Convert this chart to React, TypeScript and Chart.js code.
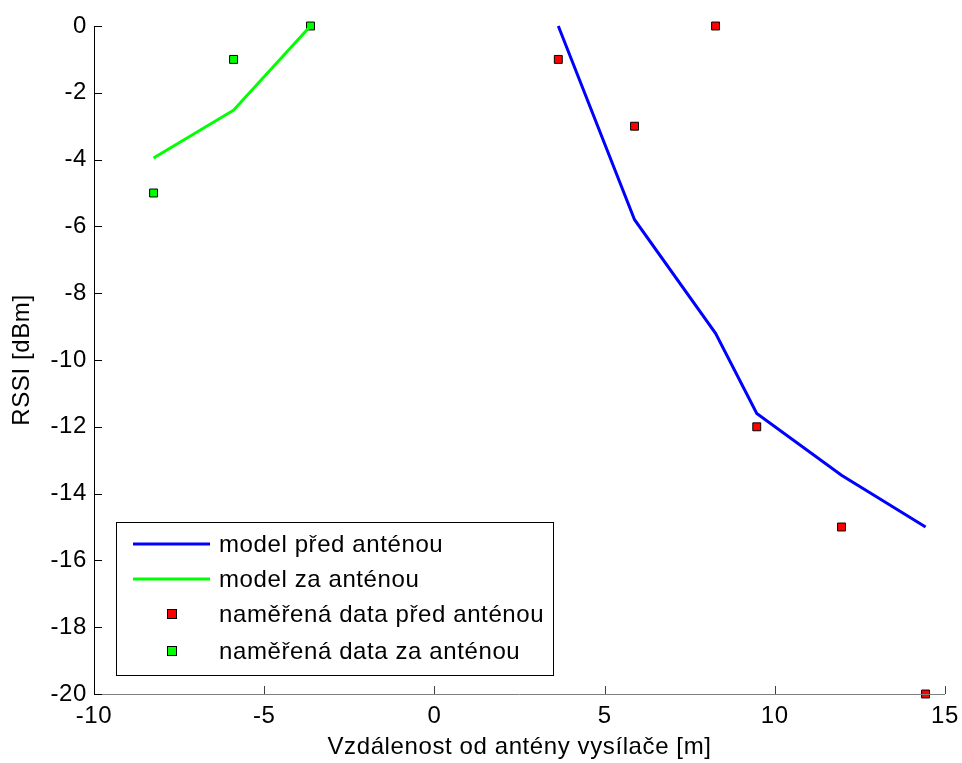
import React, { useEffect, useRef } from "react";
import { Chart, registerables } from "chart.js";

Chart.register(...registerables);

const distPred = [3.64, 5.88, 8.26, 9.47, 11.96, 14.43];
const modelPred = [0, -5.8, -9.2, -11.6, -13.45, -15.0];
const measPred = [-1, -3, 0, -12, -15, -20];

const distZa = [-8.25, -5.9, -3.64];
const modelZa = [-3.95, -2.52, 0];
const measZa = [-5, -1, 0];

const xTicks = [-10, -5, 0, 5, 10, 15];
const yTicks = [-20, -18, -16, -14, -12, -10, -8, -6, -4, -2, 0];

const labels = [
  "model před anténou",
  "model za anténou",
  "naměřená data před anténou",
  "naměřená data za anténou",
];

const FONT = "Arial, 'Liberation Sans', Helvetica, sans-serif";
const FS = 24;

const pts = (xs: number[], ys: number[]) => xs.map((x, i) => ({ x, y: ys[i] }));

const spacingPlugin = {
  id: "letterSpacing",
  beforeDraw(chart: any) {
    chart.ctx.letterSpacing = "0.6px";
  },
};

const axesPlugin = {
  id: "matlabAxes",
  afterDraw(chart: any) {
    const { ctx, chartArea } = chart;
    const xs = chart.scales.x;
    const ys = chart.scales.y;
    ctx.save();
    ctx.lineWidth = 1;
    ctx.strokeStyle = "#808080";
    ctx.beginPath();
    ctx.moveTo(chartArea.left, chartArea.bottom + 0.5);
    ctx.lineTo(chartArea.right, chartArea.bottom + 0.5);
    ctx.stroke();
    ctx.strokeStyle = "#404040";
    xs.ticks.forEach((t: any) => {
      const px = Math.round(xs.getPixelForValue(t.value)) + 0.5;
      ctx.beginPath();
      ctx.moveTo(px, chartArea.bottom);
      ctx.lineTo(px, chartArea.bottom - 8);
      ctx.stroke();
    });
    ctx.strokeStyle = "#000000";
    ctx.beginPath();
    ctx.moveTo(chartArea.left + 0.5, chartArea.top);
    ctx.lineTo(chartArea.left + 0.5, chartArea.bottom + 1);
    ctx.stroke();
    ys.ticks.forEach((t: any) => {
      const py = Math.round(ys.getPixelForValue(t.value)) + 0.5;
      ctx.beginPath();
      ctx.moveTo(chartArea.left, py);
      ctx.lineTo(chartArea.left + 8, py);
      ctx.stroke();
    });
    ctx.restore();
  },
};

const legendPlugin = {
  id: "insideLegend",
  afterDraw(chart: any) {
    const { ctx } = chart;
    const bx = 116, by = 522, bw = 437, bh = 153;
    ctx.save();
    ctx.fillStyle = "#ffffff";
    ctx.fillRect(bx, by, bw, bh);
    ctx.strokeStyle = "#000000";
    ctx.lineWidth = 1;
    ctx.strokeRect(bx + 0.5, by + 0.5, bw, bh);
    const rows = [544, 579, 614, 651];
    ctx.font = `${FS}px ${FONT}`;
    ctx.textBaseline = "middle";
    ctx.textAlign = "left";
    chart.data.datasets.forEach((ds: any, i: number) => {
      const y = rows[i];
      if (ds.showLine) {
        ctx.strokeStyle = ds.borderColor;
        ctx.lineWidth = ds.borderWidth;
        ctx.beginPath();
        ctx.moveTo(133, y);
        ctx.lineTo(210, y);
        ctx.stroke();
      } else {
        ctx.fillStyle = ds.pointBackgroundColor;
        ctx.fillRect(168, y - 4, 8, 8);
        ctx.strokeStyle = "#000";
        ctx.lineWidth = 1;
        ctx.strokeRect(167.5, y - 4.5, 9, 9);
      }
      ctx.fillStyle = "#000";
      ctx.fillText(ds.label, 219, y + 1);
    });
    ctx.restore();
  },
};

export default function App() {
  const ref = useRef<HTMLCanvasElement>(null);
  useEffect(() => {
    document.body.style.margin = "0";
    const chart = new Chart(ref.current!, {
      type: "scatter",
      data: {
        datasets: [
          {
            label: labels[0],
            data: pts(distPred, modelPred),
            showLine: true,
            borderColor: "#0000ff",
            borderWidth: 3,
            pointRadius: 0,
            pointBackgroundColor: "#0000ff",
            clip: false,
          },
          {
            label: labels[1],
            data: pts(distZa, modelZa),
            showLine: true,
            borderColor: "#00ff00",
            borderWidth: 3,
            pointRadius: 0,
            pointBackgroundColor: "#00ff00",
            clip: false,
          },
          {
            label: labels[2],
            data: pts(distPred, measPred),
            showLine: false,
            pointStyle: "rect",
            pointRadius: 5.6,
            pointBackgroundColor: "#ff0000",
            pointBorderColor: "#000000",
            pointBorderWidth: 1,
            clip: false,
          },
          {
            label: labels[3],
            data: pts(distZa, measZa),
            showLine: false,
            pointStyle: "rect",
            pointRadius: 5.6,
            pointBackgroundColor: "#00ff00",
            pointBorderColor: "#000000",
            pointBorderWidth: 1,
            clip: false,
          },
        ],
      },
      options: {
        animation: false,
        responsive: false,
        maintainAspectRatio: false,
        layout: { padding: { left: 0, right: 17, top: 26, bottom: 0 } },
        plugins: { legend: { display: false }, tooltip: { enabled: false } },
        scales: {
          x: {
            type: "linear",
            min: -10,
            max: 15,
            afterBuildTicks: (s: any) => {
              s.ticks = xTicks.map((v) => ({ value: v }));
            },
            afterFit: (s: any) => {
              s.height = 69;
              s.paddingLeft = 0;
              s.paddingRight = 0;
            },
            grid: { display: false, drawTicks: false },
            border: { display: false },
            ticks: {
              color: "#000",
              padding: 8,
              font: { family: FONT, size: FS },
              maxRotation: 0,
            },
            title: {
              display: true,
              text: "Vzdálenost od antény vysílače [m]",
              color: "#000",
              font: { family: FONT, size: FS },
              padding: { top: 0, bottom: 1 },
            },
          },
          y: {
            type: "linear",
            min: -20,
            max: 0,
            afterBuildTicks: (s: any) => {
              s.ticks = yTicks.map((v) => ({ value: v }));
            },
            afterFit: (s: any) => {
              s.width = 94;
              s.paddingTop = 0;
              s.paddingBottom = 0;
            },
            grid: { display: false, drawTicks: false },
            border: { display: false },
            ticks: {
              color: "#000",
              padding: 7,
              font: { family: FONT, size: FS },
            },
            title: {
              display: true,
              text: "RSSI [dBm]",
              color: "#000",
              font: { family: FONT, size: FS },
              padding: { top: 8, bottom: 0 },
            },
          },
        },
      },
      plugins: [spacingPlugin, axesPlugin, legendPlugin],
    });
    return () => chart.destroy();
  }, []);
  return (
    <div style={{ width: 962, height: 763, position: "relative" }}>
      <canvas ref={ref} width={962} height={763} style={{ display: "block" }} />
    </div>
  );
}
